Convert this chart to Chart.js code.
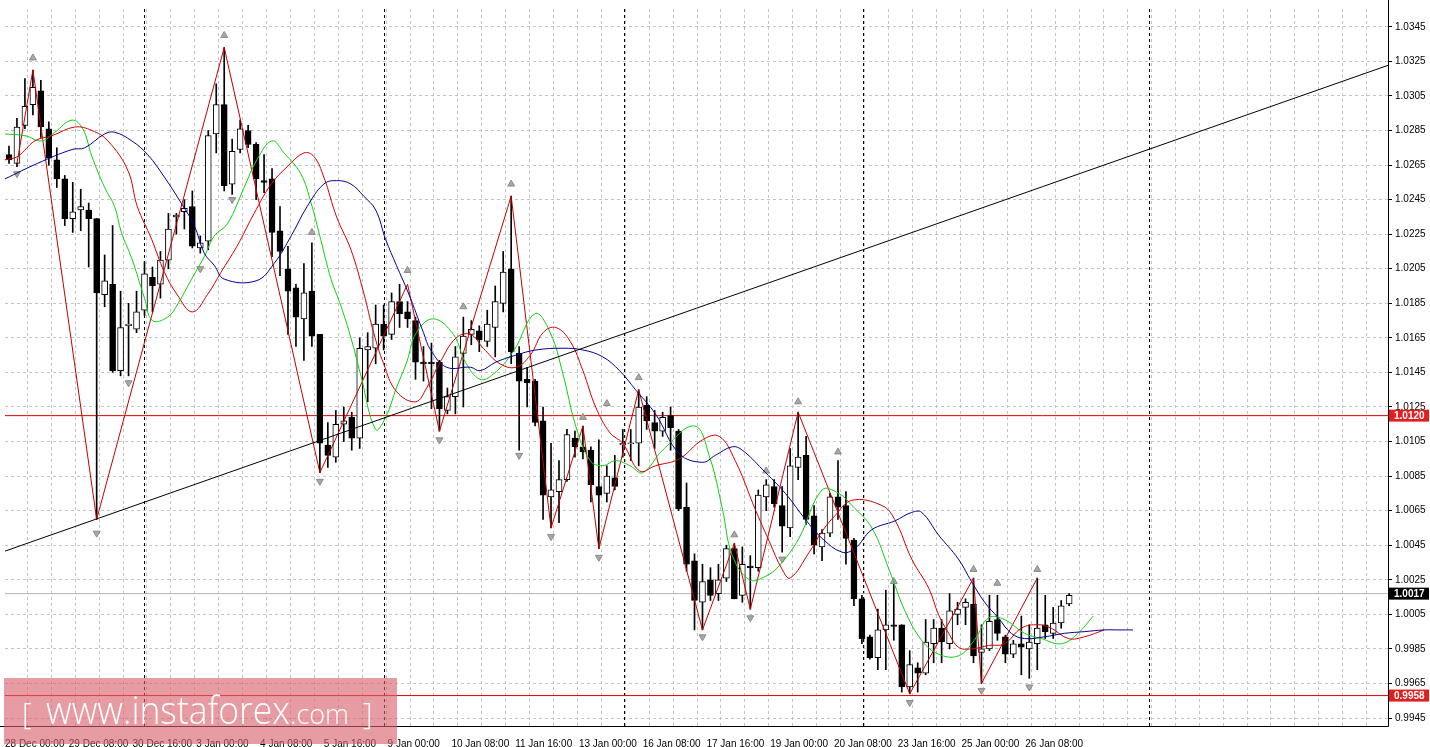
<!DOCTYPE html>
<html><head><meta charset="utf-8">
<script src="https://cdn.jsdelivr.net/npm/chart.js@4.4.1/dist/chart.umd.min.js"></script>
<style>html,body{margin:0;padding:0;background:#fff}#w{width:1430px;height:747px;position:relative}</style>
</head><body><div id="w"><canvas id="c"></canvas></div>
<script>
const opens=[1.0271,1.0266,1.0288,1.0300,1.0308,1.0286,1.0268,1.0257,1.0234,1.0239,1.0239,1.0234,1.0190,1.0196,1.0146,1.0172,1.0170,1.0181,1.0200,1.0196,1.0210,1.0235,1.0238,1.0241,1.0217,1.0221,1.0283,1.0300,1.0254,1.0274,1.0285,1.0277,1.0256,1.0257,1.0227,1.0205,1.0194,1.0176,1.0192,1.0167,1.0103,1.0096,1.0115,1.0119,1.0107,1.0158,1.0159,1.0173,1.0167,1.0186,1.0180,1.0175,1.0151,1.0151,1.0151,1.0123,1.0131,1.0156,1.0167,1.0169,1.0163,1.0171,1.0185,1.0205,1.0156,1.0141,1.0140,1.0117,1.0073,1.0076,1.0083,1.0107,1.0102,1.0100,1.0079,1.0075,1.0084,1.0103,1.0104,1.0104,1.0126,1.0116,1.0111,1.0120,1.0111,1.0067,1.0036,1.0012,1.0025,1.0017,1.0026,1.0043,1.0016,1.0033,1.0032,1.0073,1.0079,1.0068,1.0055,1.0090,1.0097,1.0062,1.0044,1.0052,1.0073,1.0068,1.0048,1.0014,0.9992,0.9980,0.9996,0.9999,0.9999,0.9963,0.9974,0.9971,0.9988,0.9997,0.9988,1.0005,1.0009,1.0011,0.9983,0.9985,1.0002,0.9992,0.9982,0.9988,0.9985,0.9988,0.9999,0.9994,1.0000,1.0011];
const highs=[1.0276,1.0292,1.0315,1.0320,1.0314,1.0290,1.0275,1.0259,1.0255,1.0251,1.0243,1.0234,1.0213,1.0230,1.0192,1.0185,1.0192,1.0209,1.0206,1.0215,1.0237,1.0237,1.0245,1.0250,1.0224,1.0285,1.0312,1.0333,1.0280,1.0291,1.0288,1.0278,1.0271,1.0263,1.0241,1.0218,1.0196,1.0208,1.0220,1.0167,1.0116,1.0123,1.0125,1.0122,1.0165,1.0168,1.0184,1.0184,1.0191,1.0196,1.0186,1.0177,1.0160,1.0162,1.0152,1.0136,1.0160,1.0177,1.0175,1.0172,1.0181,1.0195,1.0215,1.0247,1.0160,1.0148,1.0141,1.0125,1.0104,1.0094,1.0112,1.0111,1.0114,1.0102,1.0106,1.0091,1.0097,1.0112,1.0112,1.0135,1.0131,1.0123,1.0122,1.0125,1.0112,1.0081,1.0040,1.0034,1.0032,1.0034,1.0045,1.0046,1.0044,1.0039,1.0077,1.0083,1.0083,1.0079,1.0101,1.0122,1.0108,1.0068,1.0054,1.0075,1.0094,1.0076,1.0049,1.0016,0.9993,1.0008,1.0019,1.0024,0.9999,0.9984,0.9977,1.0002,1.0002,1.0002,1.0017,1.0012,1.0014,1.0026,0.9999,1.0016,1.0016,0.9993,0.9990,1.0004,0.9999,1.0026,1.0016,1.0009,1.0013,1.0017];
const lows=[1.0266,1.0264,1.0286,1.0294,1.0281,1.0265,1.0252,1.0230,1.0226,1.0227,1.0206,1.0060,1.0183,1.0145,1.0143,1.0143,1.0168,1.0178,1.0180,1.0188,1.0205,1.0225,1.0228,1.0217,1.0214,1.0216,1.0272,1.0250,1.0248,1.0272,1.0275,1.0245,1.0249,1.0212,1.0201,1.0167,1.0160,1.0152,1.0160,1.0087,1.0090,1.0093,1.0105,1.0100,1.0101,1.0128,1.0150,1.0158,1.0164,1.0171,1.0171,1.0141,1.0140,1.0124,1.0111,1.0121,1.0121,1.0125,1.0161,1.0157,1.0160,1.0154,1.0180,1.0150,1.0100,1.0125,1.0114,1.0060,1.0055,1.0058,1.0082,1.0096,1.0095,1.0070,1.0043,1.0070,1.0077,1.0096,1.0094,1.0091,1.0112,1.0101,1.0108,1.0100,1.0065,1.0030,0.9996,0.9996,1.0013,1.0013,1.0024,1.0014,1.0012,1.0008,1.0030,1.0065,1.0067,1.0041,1.0050,1.0083,1.0057,1.0040,1.0036,1.0050,1.0060,1.0034,1.0010,0.9988,0.9979,0.9973,0.9973,0.9990,0.9960,0.9959,0.9960,0.9970,0.9977,0.9977,0.9985,0.9999,0.9999,0.9977,0.9965,0.9984,0.9990,0.9977,0.9980,0.9970,0.9968,0.9973,0.9991,0.9991,0.9997,1.0010];
const closes=[1.0268,1.0287,1.0299,1.0310,1.0287,1.0269,1.0257,1.0234,1.0238,1.0241,1.0234,1.0191,1.0198,1.0146,1.0171,1.0173,1.0180,1.0202,1.0195,1.0210,1.0228,1.0236,1.0240,1.0218,1.0220,1.0282,1.0300,1.0253,1.0273,1.0286,1.0277,1.0257,1.0255,1.0226,1.0215,1.0192,1.0177,1.0191,1.0166,1.0104,1.0097,1.0115,1.0117,1.0107,1.0159,1.0160,1.0173,1.0166,1.0186,1.0179,1.0176,1.0151,1.0150,1.0150,1.0124,1.0131,1.0154,1.0166,1.0170,1.0164,1.0173,1.0186,1.0203,1.0157,1.0140,1.0139,1.0116,1.0074,1.0077,1.0083,1.0109,1.0102,1.0099,1.0080,1.0074,1.0085,1.0079,1.0104,1.0104,1.0125,1.0117,1.0111,1.0119,1.0113,1.0066,1.0034,1.0013,1.0024,1.0016,1.0025,1.0043,1.0014,1.0034,1.0032,1.0074,1.0080,1.0069,1.0056,1.0091,1.0096,1.0060,1.0045,1.0052,1.0073,1.0067,1.0049,1.0014,0.9991,0.9980,0.9996,0.9999,0.9998,0.9963,0.9976,0.9971,0.9989,0.9997,0.9989,1.0007,1.0008,1.0012,0.9981,0.9985,1.0001,0.9994,0.9982,0.9988,0.9986,0.9989,0.9997,0.9995,1.0000,1.0010,1.0016];

const greenIdx=[-0.5,2,4.1,5.75,7.9,9.25,10.4,12,13.25,14.1,15.4,17,18,19.9,21.1,22.9,24.5,25.75,27.4,29.5,31.1,33,34.5,36.6,37.9,39.1,40.4,41.6,42.9,44.1,46,47.25,48.6,49.9,51.1,53.25,55.75,57.25,59.1,60.75,63.25,66,67.9,69.5,71.1,72.9,74.5,76.1,77.9,79.5,82,86,87.9,89.5,90.75,92.9,94.9,96.6,99.1,102,104.1,105.75,108.25,110.4,112.4,114.5,116.6,119.1,121.1,122.9,124.9,127.4,129.5,132,134.1,136];
const greenVal=[1.0283,1.0282,1.0279,1.0284,1.0291,1.0286,1.0270,1.0252,1.0241,1.0226,1.0211,1.0188,1.0175,1.0177,1.0184,1.0199,1.0212,1.0224,1.0231,1.0252,1.0268,1.0279,1.0272,1.0260,1.0243,1.0222,1.0199,1.0184,1.0165,1.0144,1.0112,1.0119,1.0136,1.0151,1.0168,1.0176,1.0167,1.0151,1.0141,1.0144,1.0157,1.0179,1.0168,1.0144,1.0114,1.0094,1.0091,1.0094,1.0091,1.0087,1.0100,1.0114,1.0096,1.0066,1.0039,1.0025,1.0027,1.0033,1.0049,1.0077,1.0075,1.0068,1.0055,1.0031,1.0007,0.9990,0.9982,0.9981,0.9990,1.0003,1.0002,0.9994,0.9991,0.9988,0.9994,1.0004];
const redIdx=[-0.5,1.1,3.25,5.4,8.25,10.4,12.4,14.9,16.1,17.9,19.5,21.1,23,24.9,26.6,28.6,30.75,32.9,34.9,37,38.25,39.5,41.1,42.9,44.5,45.75,47,48.6,51,52.4,54.1,56.1,57.9,59.5,61.6,63.6,65.4,67,68.6,70.4,72,73.6,75.4,77,79.1,81.1,84.1,87,89.1,91.1,93.6,95.4,97,98,100.4,102,103.6,105.75,109.5,111.1,113.25,115.4,116.6,117.9,119.1,120.75,122.9,124.9,127,129.1,130.75,132.9,134.9,137.4];
const redVal=[1.0268,1.0270,1.0279,1.0282,1.0287,1.0285,1.0279,1.0262,1.0241,1.0222,1.0203,1.0190,1.0180,1.0190,1.0203,1.0218,1.0237,1.0254,1.0264,1.0272,1.0270,1.0258,1.0235,1.0216,1.0191,1.0168,1.0150,1.0134,1.0128,1.0136,1.0151,1.0165,1.0167,1.0159,1.0150,1.0148,1.0155,1.0168,1.0171,1.0163,1.0146,1.0125,1.0110,1.0104,1.0088,1.0091,1.0095,1.0106,1.0108,1.0094,1.0066,1.0047,1.0031,1.0026,1.0041,1.0053,1.0062,1.0071,1.0068,1.0060,1.0037,1.0020,1.0005,0.9994,0.9986,0.9985,0.9987,0.9988,0.9997,0.9999,0.9997,0.9991,0.9992,0.9996];
const blueIdx=[-0.5,3.6,7.9,9.5,12,13.25,15.4,17.4,19.5,21.6,23.25,24.5,25.75,27,31,33.25,35.4,37.4,39.5,41.1,42.9,44.5,46,47.25,48.6,50.1,52,52.9,54.9,57.9,59.1,61.1,63.6,66.1,69.5,72,74.5,76.6,78.6,81.1,84.1,87,88.6,90.75,92,94.5,97.4,99.9,102,104.5,106.1,108.25,111.1,113.25,114.5,116.6,119.1,120.75,122.4,124.1,125.75,127.4,129.9,132.4,134.9,137.4,139.1,141];
const blueVal=[1.0257,1.0266,1.0274,1.0275,1.0283,1.0284,1.0279,1.0271,1.0258,1.0243,1.0230,1.0214,1.0207,1.0199,1.0198,1.0208,1.0224,1.0241,1.0254,1.0256,1.0254,1.0247,1.0239,1.0222,1.0207,1.0191,1.0168,1.0158,1.0148,1.0148,1.0146,1.0151,1.0155,1.0158,1.0159,1.0158,1.0154,1.0146,1.0135,1.0121,1.0098,1.0093,1.0097,1.0102,1.0100,1.0089,1.0075,1.0060,1.0049,1.0041,1.0043,1.0054,1.0059,1.0064,1.0064,1.0051,1.0037,1.0024,1.0012,1.0003,0.9994,0.9991,0.9992,0.9994,0.9995,0.9996,0.9996,0.9996];
const zzIdx=[1,3,11,27,39,50,54,63,68,72,74,79,87,91,93,99,113,121,122,129];
const zzVal=[1.0266,1.0320,1.0060,1.0333,1.0087,1.0196,1.0111,1.0247,1.0055,1.0114,1.0043,1.0135,0.9996,1.0046,1.0008,1.0122,0.9959,1.0026,0.9965,1.0026];
const fracUpIdx=[3,27,38,50,57,63,72,75,79,91,95,99,104,111,121,124,129];
const fracUpVal=[1.0327,1.0340,1.0226,1.0204,1.0183,1.0254,1.0119,1.0127,1.0142,1.0051,1.0088,1.0128,1.0099,1.0024,1.0031,1.0023,1.0031];
const fracDnIdx=[1,11,15,24,28,39,54,64,68,74,87,93,97,113,122,128];
const fracDnVal=[1.0260,1.0052,1.0139,1.0205,1.0245,1.0082,1.0106,1.0097,1.0050,1.0038,0.9992,1.0003,1.0037,0.9954,0.9961,0.9963];
const trendIdx=[-0.5,173];
const trendVal=[1.00416,1.03227];
const levelRed1=1.0120, levelRed2=0.9958, levelBid=1.0017;
const yTicks=[0.9945,0.9965,0.9985,1.0005,1.0025,1.0045,1.0065,1.0085,1.0105,1.0125,1.0145,1.0165,1.0185,1.0205,1.0225,1.0245,1.0265,1.0285,1.0305,1.0325,1.0345];
const xLabels=["28 Dec 00:00","29 Dec 08:00","30 Dec 16:00","3 Jan 00:00","4 Jan 08:00","5 Jan 16:00","9 Jan 00:00","10 Jan 08:00","11 Jan 16:00","13 Jan 00:00","16 Jan 08:00","17 Jan 16:00","19 Jan 00:00","20 Jan 08:00","23 Jan 16:00","25 Jan 00:00","26 Jan 08:00"];
const separatorIdx=[17,47,77.1,107.1,143];

const pts=(ix,v)=>ix.map((x,i)=>({x:x,y:v[i]}));
const wick=opens.map((o,i)=>({x:i,y:[lows[i],highs[i]]}));
const body=opens.map((o,i)=>{let a=o,b=closes[i];if(Math.abs(a-b)<0.00006){const m=(a+b)/2;a=m-0.00003;b=m+0.00003;}return {x:i,y:[a,b]};});
const bodyCol=opens.map((o,i)=>closes[i]>=o?'#ffffff':'#000000');
const lvl=v=>[{x:-0.5,y:v},{x:173,y:v}];
const lineDs=(data,color,extra)=>Object.assign({type:'line',data:data,borderColor:color,borderWidth:1,pointRadius:0,tension:0.4,fill:false,order:0},extra||{});

const plug={id:'mt',
 beforeDatasetsDraw(ch){const c=ch.ctx,a=ch.chartArea,xs=ch.scales.x;c.save();
  c.strokeStyle='#c4c4c4';c.lineWidth=1;c.setLineDash([3,3]);
  for(let v=2.25;v<173;v+=3){const px=Math.round(xs.getPixelForValue(v))+0.5;c.beginPath();c.moveTo(px,a.top);c.lineTo(px,a.bottom);c.stroke();}
  c.strokeStyle='#000';c.setLineDash([3,3]);
  separatorIdx.forEach(v=>{const px=Math.round(xs.getPixelForValue(v))+0.5;c.beginPath();c.moveTo(px,a.top);c.lineTo(px,a.bottom);c.stroke();});
  c.restore();},
 afterDraw(ch){const c=ch.ctx,a=ch.chartArea,ys=ch.scales.y;c.save();
  c.strokeStyle='#000';c.lineWidth=1;c.beginPath();c.moveTo(a.right+0.5,0);c.lineTo(a.right+0.5,a.bottom+0.5);c.lineTo(0,a.bottom+0.5);c.stroke();
  const box=(v,bg)=>{const py=ys.getPixelForValue(v);c.fillStyle=bg;c.fillRect(a.right+1,py-6,40,12);c.fillStyle='#fff';c.font='bold 10px "Liberation Sans"';c.textBaseline='middle';c.textAlign='left';c.fillText(v.toFixed(4),a.right+6,py+0.5);};
  box(levelRed1,'#e02020');box(levelBid,'#000');box(levelRed2,'#e02020');
  c.fillStyle='rgba(214,95,105,0.62)';c.fillRect(4,678,393,66);
  c.fillStyle='#fff';c.textBaseline='alphabetic';c.textAlign='left';
  c.font='300 30px "Open Sans"';c.fillText('[',22,724);
  c.font='300 38px "Open Sans"';let w=c.measureText('www.instaforex').width;c.save();c.translate(46,724);c.scale(244/w,1);c.fillText('www.instaforex',0,0);c.restore();
  c.font='300 27px "Open Sans"';c.fillText('.com',290,724);c.font='300 30px "Open Sans"';c.fillText(']',363,724);
  c.restore();}};

new Chart(document.getElementById('c'),{type:'bar',
 data:{datasets:[
  {type:'bar',data:wick,backgroundColor:'#000',barThickness:1,grouped:false,order:3},
  {type:'bar',data:body,backgroundColor:bodyCol,borderColor:'#000',borderWidth:1,borderSkipped:false,barThickness:6,grouped:false,order:2},
  lineDs(lvl(levelBid),'#b4b4b4',{tension:0,order:5}),
  lineDs(lvl(levelRed1),'#e00000',{tension:0,order:5}),
  lineDs(lvl(levelRed2),'#e00000',{tension:0,order:5}),
  lineDs(pts(trendIdx,trendVal),'#000',{tension:0}),
  lineDs(pts(blueIdx,blueVal),'#000090'),
  lineDs(pts(redIdx,redVal),'#d00000'),
  lineDs(pts(greenIdx,greenVal),'#10d010'),
  lineDs(pts(zzIdx,zzVal),'#c00000',{tension:0}),
  {type:'line',data:pts(fracUpIdx,fracUpVal),showLine:false,pointStyle:'triangle',pointRadius:4,backgroundColor:'#a8a8a8',borderColor:'#8a8a8a',borderWidth:1,order:0},
  {type:'line',data:pts(fracDnIdx,fracDnVal),showLine:false,pointStyle:'triangle',rotation:180,pointRadius:4,backgroundColor:'#a8a8a8',borderColor:'#8a8a8a',borderWidth:1,order:0}
 ]},
 options:{responsive:true,maintainAspectRatio:false,animation:false,layout:{padding:0},
  plugins:{legend:{display:false},tooltip:{enabled:false}},
  scales:{
   x:{type:'linear',offset:false,min:-0.5,max:173,grid:{display:false,offset:false},border:{display:false},
    afterBuildTicks:s=>{s.ticks=xLabels.map((l,i)=>({value:-0.5+8*i}));},
    afterFit:s=>{s.height=21;},
    ticks:{autoSkip:false,maxRotation:0,align:'start',padding:4,color:'#000',font:{family:'"Liberation Sans"',size:10},callback:(v,i)=>xLabels[i]}},
   y:{type:'linear',position:'right',min:0.99404,max:1.03553,
    grid:{color:'#c4c4c4',tickLength:4,tickColor:'#000'},border:{display:false,dash:[3,3]},
    afterBuildTicks:s=>{s.ticks=yTicks.map(v=>({value:v}));},
    afterFit:s=>{s.width=42;},
    ticks:{padding:3,color:'#000',font:{family:'"Liberation Sans"',size:10},callback:v=>v.toFixed(4)}}
  }},
 plugins:[plug]});
</script></body></html>
